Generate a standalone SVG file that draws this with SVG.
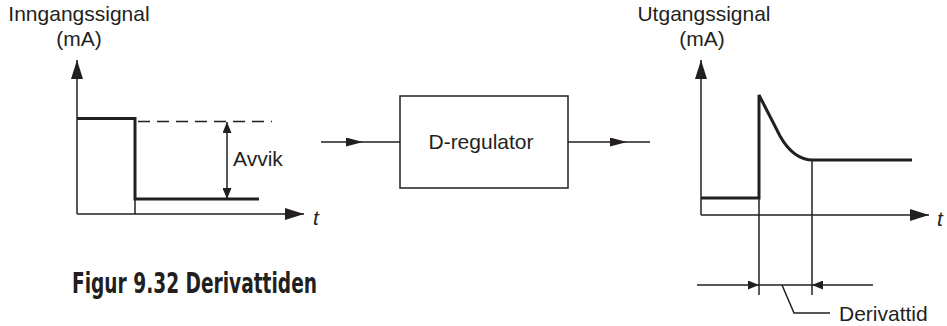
<svg xmlns="http://www.w3.org/2000/svg" width="947" height="326" viewBox="0 0 947 326">
<style>
.txt{font-family:"Liberation Sans",Arial,sans-serif;font-size:21px;fill:#231f20}
.it{font-style:italic}
.cap{font-family:"Liberation Sans Narrow","DejaVu Sans Condensed",sans-serif;font-weight:bold;font-size:28px;fill:#231f20}
.thin{fill:none;stroke:#231f20;stroke-width:1.5}
.sig{fill:none;stroke:#231f20;stroke-width:3;stroke-linejoin:miter}
.dash{fill:none;stroke:#231f20;stroke-width:1.3;stroke-dasharray:12 7}
</style>
<defs>
<marker id="ax" markerUnits="userSpaceOnUse" markerWidth="19" markerHeight="12" refX="19" refY="6" orient="auto">
<path d="M0,0 L19,6 L0,12 z" fill="#231f20"/>
</marker>
<marker id="mid" markerUnits="userSpaceOnUse" markerWidth="17" markerHeight="9" refX="17" refY="4.5" orient="auto">
<path d="M0,0 L17,4.5 L0,9 z" fill="#231f20"/>
</marker>
<marker id="sm" markerUnits="userSpaceOnUse" markerWidth="11" markerHeight="9" refX="11" refY="4.5" orient="auto">
<path d="M0,0 L11,4.5 L0,9 z" fill="#231f20"/>
</marker>
</defs>

<g id="input-graph">
<text class="txt" x="79" y="21" text-anchor="middle">Inngangssignal</text>
<text class="txt" x="79" y="46" text-anchor="middle">(mA)</text>
<line class="thin" x1="77" y1="214" x2="77" y2="60" marker-end="url(#ax)"/>
<line class="thin" x1="77" y1="214" x2="304" y2="214" marker-end="url(#ax)"/>
<text class="txt it" x="313" y="225">t</text>
<line class="thin" x1="135" y1="199" x2="135" y2="214"/>
<path class="sig" d="M77,118.5 H135 V199 H259"/>
<line class="dash" x1="138" y1="121.5" x2="272" y2="121.5"/>
<line class="thin" x1="227" y1="160" x2="227" y2="122" marker-end="url(#sm)"/>
<line class="thin" x1="227" y1="160" x2="227" y2="199" marker-end="url(#sm)"/>
<text class="txt" x="233" y="166">Avvik</text>
</g>

<g id="d-regulator">
<rect class="thin" x="400" y="96" width="168" height="92"/>
<text class="txt" x="481" y="149" text-anchor="middle">D-regulator</text>
</g>

<g id="output-graph">
<text class="txt" x="704" y="21" text-anchor="middle">Utgangssignal</text>
<text class="txt" x="702" y="46" text-anchor="middle">(mA)</text>
<line class="thin" x1="701" y1="215" x2="701" y2="60" marker-end="url(#ax)"/>
<line class="thin" x1="701" y1="215" x2="929" y2="215" marker-end="url(#ax)"/>
<text class="txt it" x="937" y="226">t</text>
<path class="sig" d="M701,198 H759 V95 L780,136 C789,152 799,160 813,160 H912"/>
<line class="thin" x1="759" y1="198" x2="759" y2="295"/>
<line class="thin" x1="812" y1="160" x2="812" y2="295"/>
<line class="thin" x1="697" y1="285" x2="759" y2="285" marker-end="url(#sm)"/>
<line class="thin" x1="759" y1="285" x2="812" y2="285"/>
<line class="thin" x1="873" y1="285" x2="812" y2="285" marker-end="url(#sm)"/>
<path class="thin" d="M782,285 L794,313 H830"/>
<text class="txt" x="839" y="321">Derivattid</text>
</g>

<g id="connectors">
<path class="thin" d="M321,142 L363,142 L400,142" marker-mid="url(#mid)"/>
<path class="thin" d="M568,142 L627,142 L650,142" marker-mid="url(#mid)"/>
</g>

<g id="caption">
<text class="cap" x="72" y="293" textLength="245" lengthAdjust="spacingAndGlyphs">Figur 9.32 Derivattiden</text>
</g>
</svg>
